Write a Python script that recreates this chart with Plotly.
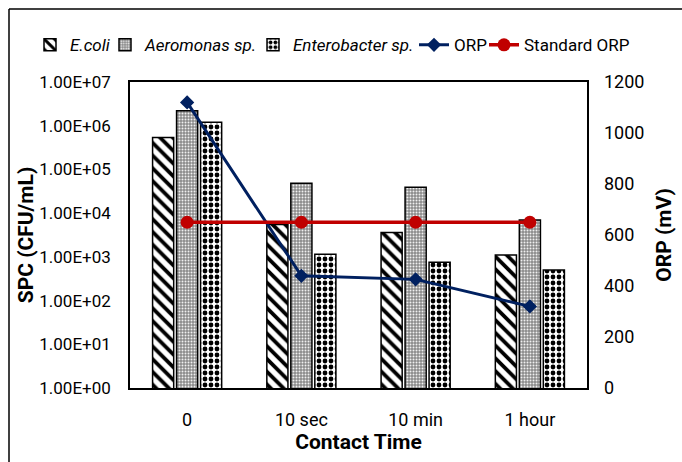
import plotly.graph_objects as go

categories = ["0", "10 sec", "10 min", "1 hour"]
ecoli = [5.4e5, 5.5e3, 3.6e3, 1.1e3]
aeromonas = [2.2e6, 4.8e4, 3.9e4, 7.0e3]
enterobacter = [1.2e6, 1.15e3, 7.5e2, 5.0e2]
orp = [1120, 440, 426, 320]
standard_orp = [650, 650, 650, 650]
left_tickvals = [1, 10, 100, 1e3, 1e4, 1e5, 1e6, 1e7]
left_ticktext = ["1.00E+00", "1.00E+01", "1.00E+02", "1.00E+03",
                 "1.00E+04", "1.00E+05", "1.00E+06", "1.00E+07"]

FONT = "Roboto, sans-serif"

fig = go.Figure()
fig.add_trace(go.Bar(
    x=categories, y=ecoli, name="<i>E.coli</i>", legend="legend",
    marker=dict(color="white", line=dict(color="black", width=1.5),
                pattern=dict(shape="\\", fgcolor="black", bgcolor="white", fgopacity=1,
                             size=9, solidity=0.42))))
fig.add_trace(go.Bar(
    x=categories, y=aeromonas, name="<i>Aeromonas sp.</i>", legend="legend2",
    marker=dict(color="#909090", line=dict(color="black", width=1.5),
                pattern=dict(shape=".", fgcolor="#f0f0f0", bgcolor="#8a8a8a", fgopacity=1,
                             size=3, solidity=0.35))))
fig.add_trace(go.Bar(
    x=categories, y=enterobacter, name="<i>Enterobacter sp.</i>", legend="legend3",
    marker=dict(color="white", line=dict(color="black", width=1.5),
                pattern=dict(shape=".", fgcolor="black", bgcolor="white", fgopacity=1,
                             size=6, solidity=0.5))))
fig.add_trace(go.Scatter(
    x=categories, y=orp, name="ORP", yaxis="y2", mode="lines+markers", legend="legend4",
    line=dict(color="#002060", width=3),
    marker=dict(symbol="diamond", size=11, color="#002060")))
fig.add_trace(go.Scatter(
    x=categories, y=standard_orp, name="Standard ORP", yaxis="y2", mode="lines+markers",
    legend="legend5",
    line=dict(color="#C00000", width=3.5),
    marker=dict(symbol="circle", size=13, color="#C00000")))


def leg(px):
    return dict(orientation="h", x=(px - 130) / 457, xanchor="left", y=1.12,
                yanchor="middle", font=dict(size=17), itemwidth=30,
                bgcolor="rgba(0,0,0,0)")


fig.update_layout(
    width=682, height=462,
    margin=dict(l=130, r=95, t=82, b=74, autoexpand=False),
    paper_bgcolor="white", plot_bgcolor="white",
    font=dict(family=FONT, size=17, color="black"),
    barmode="group", bargap=0.37, bargroupgap=0.12,
    showlegend=True,
    legend=leg(30), legend2=leg(105), legend3=leg(253),
    legend4=leg(414), legend5=leg(484),
    xaxis=dict(type="category", showline=True, linecolor="black", linewidth=2,
               mirror=True, ticks="", tickfont=dict(size=18), ticklabelstandoff=14,
               title=dict(text="<b>Contact Time</b>", font=dict(size=21), standoff=0)),
    yaxis=dict(type="log", range=[0, 7], tickvals=left_tickvals, ticktext=left_ticktext,
               showline=True, linecolor="black", linewidth=1.5, mirror=True,
               showgrid=False, ticks="", ticklabelstandoff=14, tickfont=dict(size=17),
               title=dict(text="<b>SPC (CFU/mL)</b>", font=dict(size=21), standoff=0)),
    yaxis2=dict(overlaying="y", side="right", range=[0, 1200], dtick=200,
                showgrid=False, showline=False, ticks="", ticklabelstandoff=16,
                tickfont=dict(size=18),
                title=dict(text="<b>ORP (mV)</b>", font=dict(size=21), standoff=12)),
)

# outer frame (left and top edges only)
fig.add_shape(type="line", xref="paper", yref="paper",
              x0=(9 - 130) / 457, x1=(9 - 130) / 457, y0=(388 - 9) / 306, y1=(388 - 470) / 306,
              line=dict(color="black", width=1.5))
fig.add_shape(type="line", xref="paper", yref="paper",
              x0=(9 - 130) / 457, x1=(690 - 130) / 457, y0=(388 - 9) / 306, y1=(388 - 9) / 306,
              line=dict(color="black", width=1.5))

fig.write_html("out.html")
